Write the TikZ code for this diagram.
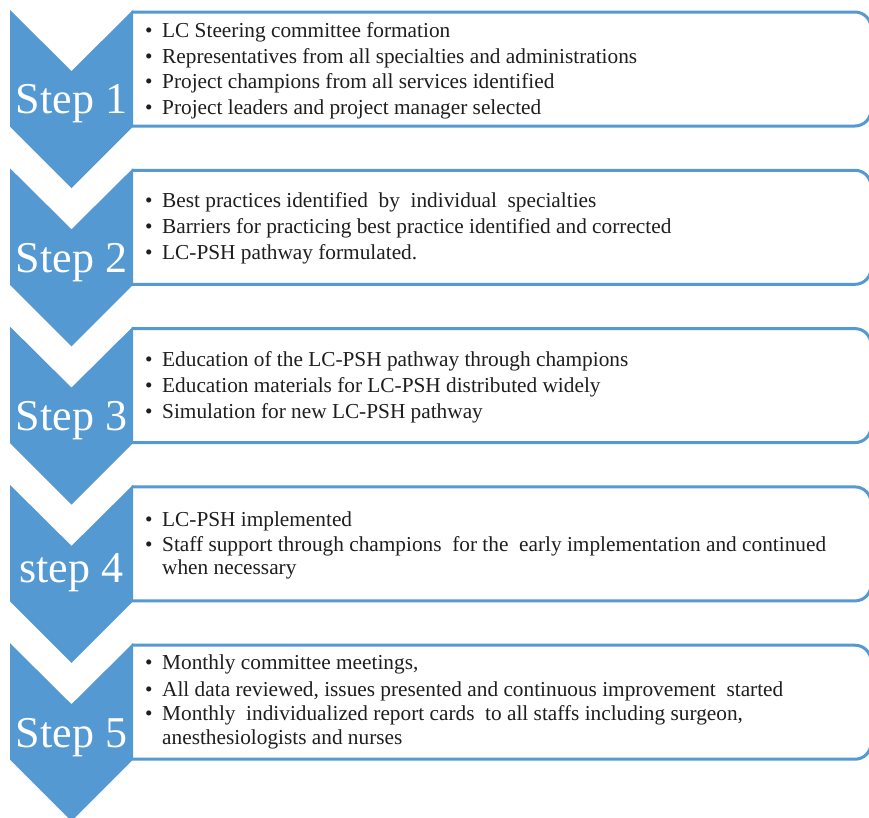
\documentclass[tikz,border=0pt]{standalone}
\usepackage{fontspec}
\setmainfont{Liberation Serif}
\definecolor{stepblue}{HTML}{5599D3}
\definecolor{ink}{HTML}{1E1E1E}

\begin{document}
\begin{tikzpicture}[x=1pt,y=-1pt,
  chevron/.style={fill=stepblue},
  infobox/.style={draw=stepblue, line width=3pt, rounded corners=16pt, fill=white},
  steplabel/.style={text=white, font=\fontsize{44}{44}\selectfont, anchor=base, inner sep=0pt},
  itemline/.style={text=ink, font=\fontsize{21.3}{21.3}\selectfont, anchor=base west, inner sep=0pt}]

\useasboundingbox (0,0) rectangle (869,817);
\clip (0,0) rectangle (869,817);

% chevrons and framed boxes for the five steps
\foreach \k in {0,...,4} {
  \pgfmathsetmacro{\t}{10+158.3*\k}
  \begin{scope}
    \clip (131.5,\t-5) rectangle (900,\t+130);
    \draw[infobox] (100,\t+2) rectangle (871,\t+116);
  \end{scope}
  \fill[chevron] (10,\t) -- (71.5,\t+61) -- (133,\t) -- (133,\t+116.5)
     -- (71.5,\t+178) -- (10,\t+116.5) -- cycle;
}

\newcommand{\bul}{\makebox[17pt][l]{\textbullet}}

% step labels
\node[steplabel] (s1) at (71.5,113) {Step 1};
\node[steplabel] (s2) at (71.5,272) {Step 2};
\node[steplabel] (s3) at (71.5,430) {Step 3};
\node[steplabel] (s4) at (71.5,582) {step 4};
\node[steplabel] (s5) at (71.5,747) {Step 5};

% step 1
\node[itemline] (a1) at (145,37)  {\bul LC Steering committee formation};
\node[itemline] (a2) at (145,63)  {\bul Representatives from all specialties and administrations};
\node[itemline] (a3) at (145,88)  {\bul Project champions from all services identified};
\node[itemline] (a4) at (145,114) {\bul Project leaders and project manager selected};

% step 2
\node[itemline] (b1) at (145,207) {\bul Best practices identified~ by~ individual~ specialties};
\node[itemline] (b2) at (145,233) {\bul Barriers for practicing best practice identified and corrected};
\node[itemline] (b3) at (145,259) {\bul LC-PSH pathway formulated.};

% step 3
\node[itemline] (c1) at (145,366) {\bul Education of the LC-PSH pathway through champions};
\node[itemline] (c2) at (145,392) {\bul Education materials for LC-PSH distributed widely};
\node[itemline] (c3) at (145,418) {\bul Simulation for new LC-PSH pathway};

% step 4
\node[itemline] (d1) at (145,526) {\bul LC-PSH implemented};
\node[itemline] (d2) at (145,551) {\bul Staff support through champions~ for the~ early implementation and continued};
\node[itemline] (d3) at (162,574) {when necessary};

% step 5
\node[itemline] (e1) at (145,669) {\bul Monthly committee meetings,};
\node[itemline] (e2) at (145,696) {\bul All data reviewed, issues presented and continuous improvement~ started};
\node[itemline] (e3) at (145,720) {\bul Monthly~ individualized report cards~ to all staffs including surgeon,};
\node[itemline] (e4) at (162,744) {anesthesiologists and nurses};
\end{tikzpicture}
\end{document}
